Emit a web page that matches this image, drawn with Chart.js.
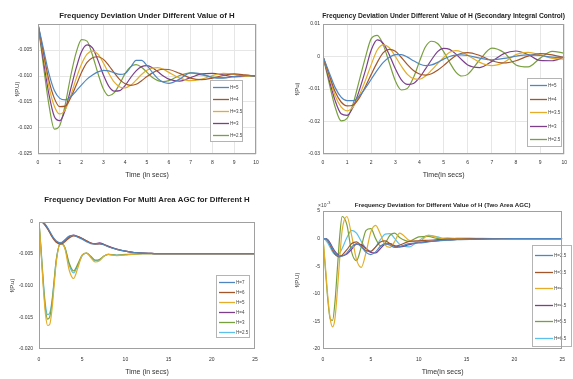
<!DOCTYPE html>
<html><head><meta charset="utf-8">
<script src="https://cdn.jsdelivr.net/npm/chart.js@4.4.0/dist/chart.umd.min.js"></script>
<style>
html,body{margin:0;padding:0;background:#fff;width:573px;height:379px;overflow:hidden}
canvas{position:absolute}
</style></head><body>
<canvas id="c1" width="290" height="190" style="left:0;top:0"></canvas>
<canvas id="c2" width="283" height="190" style="left:290px;top:0"></canvas>
<canvas id="c3" width="290" height="189" style="left:0;top:190px"></canvas>
<canvas id="c4" width="283" height="189" style="left:290px;top:190px"></canvas>
<script>
// ---------- data ----------
const T1 = [0,0.25,0.5,0.75,1,1.25,1.5,1.75,2,2.25,2.5,2.75,3,3.25,3.5,3.75,4,4.25,4.5,4.75,5,5.25,5.5,5.75,6,6.5,7,7.5,8,8.5,9,9.5,10];
const T3 = [0,0.25,0.5,0.75,1,1.25,1.5,1.75,2,2.5,3,3.5,4,4.5,5,5.5,6,6.5,7,7.5,8,9,10,11,12,13,14,16,18,20,22.5,25];

const LABELS1 = ["H=5","H=4","H=3.5","H=3","H=2.5"];
const LABELS2 = ["H=5","H=4","H=3.5","H=3","H=2.5"];
const LABELS3 = ["H=7","H=6","H=5","H=4","H=3","H=2.5"];
const LABELS4 = ["H=2.5","H=3.5","H=4","H=4.5","H=5.5","H=6.5"];

// Panel 1: primary control only
const P1_H5  = [0,-0.0048,-0.0095,-0.0128,-0.0143,-0.0146,-0.014,-0.0129,-0.0117,-0.0106,-0.0098,-0.0092,-0.0089,-0.009,-0.0094,-0.0097,-0.0095,-0.0083,-0.007,-0.007,-0.008,-0.0093,-0.0105,-0.0112,-0.0114,-0.0106,-0.0094,-0.0096,-0.0103,-0.0104,-0.0101,-0.0099,-0.01];
const P1_H4  = [0,-0.0055,-0.0108,-0.0143,-0.0159,-0.0158,-0.0142,-0.0118,-0.0093,-0.0074,-0.0065,-0.0063,-0.0068,-0.008,-0.0094,-0.0107,-0.0115,-0.0118,-0.0116,-0.0109,-0.0101,-0.0094,-0.0089,-0.0087,-0.00875,-0.0095,-0.0104,-0.0107,-0.0104,-0.0099,-0.0096,-0.0098,-0.01005];
const P1_H35 = [0,-0.006,-0.012,-0.0158,-0.0173,-0.0165,-0.0138,-0.0105,-0.0077,-0.0058,-0.0052,-0.0058,-0.0075,-0.0095,-0.0112,-0.0121,-0.0123,-0.0118,-0.0108,-0.0097,-0.0089,-0.0085,-0.0084,-0.0087,-0.0093,-0.0104,-0.0109,-0.0106,-0.0099,-0.0095,-0.0097,-0.01005,-0.0101];
const P1_H3  = [0,-0.007,-0.0135,-0.0178,-0.0186,-0.0165,-0.0125,-0.0085,-0.0053,-0.004,-0.0046,-0.007,-0.0098,-0.012,-0.0129,-0.0128,-0.0118,-0.0103,-0.009,-0.0082,-0.008,-0.0084,-0.0092,-0.01,-0.0106,-0.011,-0.0103,-0.0096,-0.0095,-0.0098,-0.01015,-0.0101,-0.01];
const P1_H25 = [0,-0.008,-0.0155,-0.0202,-0.0195,-0.0155,-0.01,-0.0055,-0.003,-0.0033,-0.006,-0.0095,-0.0125,-0.0138,-0.0132,-0.0115,-0.0095,-0.0082,-0.0078,-0.0083,-0.0093,-0.0103,-0.0109,-0.0111,-0.0109,-0.0099,-0.0094,-0.0098,-0.0102,-0.0103,-0.0101,-0.00995,-0.01];

// Panel 2: secondary integral control
const P2_H5  = [0,-0.0048,-0.0095,-0.0125,-0.0136,-0.0136,-0.0122,-0.0098,-0.007,-0.0042,-0.0018,-0.0002,0.0006,0.0006,-0.0002,-0.0013,-0.0023,-0.0028,-0.0026,-0.0018,-0.0008,0,0.0004,0.0005,0.0003,-0.0005,-0.001,-0.0006,0.0001,0.0005,0.0003,-0.0002,-0.0003];
const P2_H4  = [0,-0.0055,-0.0108,-0.014,-0.0152,-0.0149,-0.0128,-0.0094,-0.0055,-0.0018,0.0012,0.0022,0.0016,-0.0003,-0.0025,-0.0043,-0.0054,-0.0057,-0.0053,-0.0042,-0.0028,-0.0012,0.0002,0.001,0.0012,0.0003,-0.0013,-0.002,-0.0013,0.0001,0.0009,0.0005,-0.0003];
const P2_H35 = [0,-0.006,-0.012,-0.0155,-0.0167,-0.0155,-0.012,-0.0075,-0.0025,0.002,0.0036,0.0027,0,-0.003,-0.0055,-0.0068,-0.007,-0.006,-0.0042,-0.0022,-0.0003,0.0013,0.0018,0.0014,0.0004,-0.0018,-0.0028,-0.0018,0.0006,0.0013,0.0005,-0.0006,-0.0008];
const P2_H3  = [0,-0.007,-0.0135,-0.0176,-0.0181,-0.0155,-0.0105,-0.0045,0.002,0.0051,0.004,0.0005,-0.0038,-0.0072,-0.0086,-0.0083,-0.0065,-0.0038,-0.001,0.0015,0.0025,0.0022,0.0008,-0.001,-0.0026,-0.0034,-0.0015,0.0009,0.0017,0.0006,-0.0012,-0.0013,-0.0002];
const P2_H25 = [0,-0.008,-0.0155,-0.0198,-0.019,-0.0145,-0.0075,-0.0005,0.0055,0.0065,0.0035,-0.002,-0.0075,-0.0103,-0.0098,-0.0065,-0.0015,0.003,0.0047,0.004,0.0015,-0.0018,-0.0047,-0.006,-0.0055,-0.001,0.0026,0.0012,-0.0026,-0.0032,-0.0005,0.0016,0.001];

// Panel 3: multi area AGC
const P3_A = [0,0,-0.0001,-0.0004,-0.0009,-0.0015,-0.0021,-0.0026,-0.0030,-0.0033,-0.0028,-0.0022,-0.0021,-0.0024,-0.0027,-0.0031,-0.0034,-0.00345,-0.0034,-0.0036,-0.0039,-0.0043,-0.0046,-0.0048,-0.0049,-0.00495,-0.005,-0.005,-0.005,-0.005,-0.005,-0.005];
const P3_B = [0,0,-0.0002,-0.0006,-0.0011,-0.0017,-0.0023,-0.0028,-0.0032,-0.0035,-0.0031,-0.0025,-0.0022,-0.0023,-0.0026,-0.00295,-0.0033,-0.0035,-0.00345,-0.00355,-0.00385,-0.0043,-0.0046,-0.0048,-0.0049,-0.00495,-0.005,-0.005,-0.005,-0.005,-0.005,-0.005];
const P3_C = [0,-0.005,-0.0103,-0.0145,-0.0163,-0.0161,-0.0138,-0.0100,-0.0063,-0.0032,-0.0042,-0.0076,-0.0089,-0.0072,-0.0052,-0.0049,-0.0056,-0.0063,-0.0061,-0.0054,-0.0051,-0.0053,-0.0052,-0.00505,-0.005,-0.005,-0.005,-0.005,-0.005,-0.005,-0.005,-0.005];
const P3_D = [0,0,-0.0001,-0.0005,-0.001,-0.0016,-0.0022,-0.0027,-0.0031,-0.0034,-0.0029,-0.0023,-0.00205,-0.0023,-0.0026,-0.003,-0.0033,-0.0034,-0.0033,-0.0035,-0.0038,-0.00425,-0.0046,-0.0048,-0.0049,-0.00495,-0.005,-0.005,-0.005,-0.005,-0.005,-0.005];
const P3_E = [0,-0.0047,-0.0098,-0.0138,-0.0153,-0.0149,-0.0128,-0.0094,-0.006,-0.0033,-0.004,-0.0065,-0.0077,-0.0066,-0.0052,-0.0049,-0.0054,-0.006,-0.0059,-0.0054,-0.0051,-0.00525,-0.00515,-0.00505,-0.005,-0.005,-0.005,-0.005,-0.005,-0.005,-0.005,-0.005];
const P3_F = [0,-0.0044,-0.0093,-0.0131,-0.0146,-0.0143,-0.0124,-0.0092,-0.0059,-0.0034,-0.0041,-0.0068,-0.0080,-0.0068,-0.0053,-0.0049,-0.0055,-0.0061,-0.006,-0.0054,-0.0051,-0.0052,-0.0051,-0.00502,-0.005,-0.005,-0.005,-0.005,-0.005,-0.005,-0.005,-0.005];

// Panel 4: two area AGC (values x 10^-3)
const P4_A = [0,0,-0.3,-1.0,-1.8,-2.5,-3.0,-3.2,-3.2,-2.6,-1.5,-0.9,-1.5,-2.5,-2.9,-2.4,-1.4,-0.9,-1.2,-1.6,-1.5,-0.9,-0.8,-0.6,-0.4,-0.3,-0.2,-0.1,-0.05,0,0,0];
const P4_B = [0,0,-0.4,-1.2,-2.1,-2.8,-3.2,-3.3,-3.0,-2.0,-0.9,-0.6,-1.3,-2.2,-2.3,-1.5,-0.6,-0.4,-0.9,-1.4,-1.2,-0.5,-0.4,-0.3,-0.2,-0.1,-0.1,0,0,0,0,0];
const P4_C = [0,-5,-10.5,-14.5,-16,-14.5,-9.5,-3.5,1.5,4.0,0.5,-3.8,-5.2,-2.5,1.2,2.4,0.8,-1.2,-1.6,-0.5,1.0,-0.3,-0.6,0.6,0.2,-0.1,0.1,0.05,0,0,0,0];
const P4_D = [0,0,-0.2,-0.8,-1.6,-2.3,-2.8,-3.1,-3.1,-2.8,-1.9,-1.0,-1.1,-1.8,-2.5,-2.6,-1.8,-1.0,-0.9,-1.3,-1.5,-1.1,-0.7,-0.5,-0.35,-0.25,-0.15,-0.08,-0.03,0,0,0];
const P4_E = [0,-5.5,-11,-14.5,-14.8,-11.5,-5.5,0.5,4.0,2.5,-2.5,-4.0,-1.5,1.5,1.8,0,-1.3,-0.8,0.6,1.0,0.2,-0.5,0.3,0.4,0,0.1,0,0,0,0,0,0];
const P4_F = [0,-0.2,-0.8,-1.6,-2.4,-2.9,-3.0,-2.6,-1.8,0.2,1.5,1.0,-0.5,-1.8,-2.3,-1.5,-0.2,0.8,0.9,0.0,-1.0,-1.5,-0.4,0.6,0.3,-0.2,0,0,0,0,0,0];

const COLORS = ['#4f86c0','#a3562a','#e3ad2a','#7b3f8c','#79a03f','#5cc0ea'];
const FONT = "'Liberation Sans', Arial, sans-serif";

// ---------- plugins ----------
const titlePlugin = {
  id:'panelTitle',
  afterDraw(chart, args, o){
    const {ctx, chartArea:a} = chart;
    ctx.save();
    ctx.fillStyle = '#222';
    ctx.font = `bold ${o.size}px ${FONT}`;
    ctx.textAlign = 'center'; ctx.textBaseline = 'middle';
    ctx.fillText(o.text, (a.left + a.right)/2, o.y);
    if (o.exp) {
      ctx.font = `${o.exp.size}px ${FONT}`;
      ctx.textAlign = 'left'; ctx.textBaseline = 'alphabetic';
      ctx.fillStyle = '#444';
      ctx.fillText('\u00d710', o.exp.x, o.exp.y);
      const w = ctx.measureText('\u00d710').width;
      ctx.font = `${o.exp.size*0.75}px ${FONT}`;
      ctx.fillText('-3', o.exp.x + w + 0.5, o.exp.y - 3);
    }
    ctx.restore();
  }
};
const legendPlugin = {
  id:'boxLegend',
  afterDatasetsDraw(chart, args, o){
    const ctx = chart.ctx;
    ctx.save();
    ctx.fillStyle = '#fff'; ctx.fillRect(o.x, o.y, o.w, o.h);
    ctx.strokeStyle = '#b4b4b4'; ctx.lineWidth = 1;
    ctx.strokeRect(o.x + 0.5, o.y + 0.5, o.w - 1, o.h - 1);
    ctx.font = `${o.size}px ${FONT}`; ctx.textBaseline = 'middle'; ctx.textAlign = 'left';
    chart.data.datasets.forEach((ds, i) => {
      const y = Math.round(o.first + i*o.step) + 0.5;
      ctx.strokeStyle = ds.borderColor; ctx.lineWidth = 1.3;
      ctx.beginPath(); ctx.moveTo(o.x + 3, y); ctx.lineTo(o.x + 3 + o.line, y); ctx.stroke();
      ctx.fillStyle = '#444';
      ctx.fillText(ds.label, o.x + 4 + o.line, y);
    });
    ctx.restore();
  }
};
const framePlugin = {
  id:'frame',
  afterDraw(chart){
    const {ctx, chartArea:a} = chart;
    ctx.save();
    ctx.strokeStyle = '#a0a0a0'; ctx.lineWidth = 1;
    const l = Math.round(a.left), t = Math.round(a.top), r = Math.round(a.right), b = Math.round(a.bottom);
    ctx.strokeRect(l + 0.5, t + 0.5, r - l - 1, b - t - 1);
    ctx.restore();
  }
};

function series(T, arrs, labels){
  return arrs.map((a, i) => ({
    label: labels[i],
    data: a.map((v, j) => ({x: T[j], y: v})),
    borderColor: COLORS[i], backgroundColor: COLORS[i],
    borderWidth: 1.2, pointRadius: 0, fill: false,
    cubicInterpolationMode: 'monotone'
  }));
}

function makeChart(id, T, arrs, labels, P){
  const yTicks = {stepSize: P.ystep, padding: P.ytickPad, font:{size:5, family:FONT}, color:'#333', autoSkip:false};
  if (P.hideTop) {
    yTicks.callback = function(v, i, ticks){ return v === P.ymax ? '' : Chart.Ticks.formatters.numeric.apply(this, [v, i, ticks]); };
  }
  new Chart(document.getElementById(id), {
    type: 'line',
    data: {datasets: series(T, arrs, labels)},
    options: {
      responsive: false, animation: false, devicePixelRatio: 1,
      layout: {padding: {left: 0, top: P.top, right: P.right, bottom: P.bottom}},
      plugins: {
        legend: {display: false}, tooltip: {enabled: false},
        panelTitle: P.title, boxLegend: P.legend
      },
      scales: {
        x: {
          type: 'linear', min: P.xmin, max: P.xmax,
          ticks: {stepSize: P.xstep, padding: P.xtickPad, font:{size:5, family:FONT}, color:'#333', maxRotation:0, autoSkip:false},
          grid: {display: P.grid, color: '#e6e6e6', drawTicks: false},
          border: {display: false},
          title: {display: true, text: P.xtitle, font:{size:7, family:FONT}, color:'#333', padding:{top:0, bottom:P.xtitlePad}},
          afterFit(s){ s.height = P.xH; }
        },
        y: {
          type: 'linear', min: P.ymin, max: P.ymax,
          ticks: yTicks,
          grid: {display: P.grid, color: '#e6e6e6', drawTicks: false},
          border: {display: false},
          title: {display: true, text: P.ytitle, font:{size:6, family:FONT}, color:'#333', padding:{top:P.ytitlePad, bottom:0}},
          afterFit(s){ s.width = P.yW; }
        }
      }
    },
    plugins: [legendPlugin, framePlugin, titlePlugin]
  });
}

makeChart('c1', T1, [P1_H5, P1_H4, P1_H35, P1_H3, P1_H25], LABELS1, {
  top:24, right:34, bottom:6, xH:30, yW:38,
  xmin:0, xmax:10, xstep:1, ymin:-0.025, ymax:0, ystep:0.005, hideTop:true,
  xtickPad:6, ytickPad:6, xtitlePad:5, ytitlePad:14, grid:true,
  xtitle:'Time (in secs)', ytitle:'f(P.U)',
  title:{text:'Frequency Deviation Under Different Value of H', size:7.8, y:16},
  legend:{x:210, y:80, w:33, h:62, first:87, step:12, line:16, size:4.5}
});
makeChart('c2', T1, [P2_H5, P2_H4, P2_H35, P2_H3, P2_H25], LABELS2, {
  top:24, right:3, bottom:6, xH:30, yW:33,
  xmin:0, xmax:10, xstep:1, ymin:-0.03, ymax:0.01, ystep:0.01,
  xtickPad:6, ytickPad:3, xtitlePad:5, ytitlePad:3.4, grid:true,
  xtitle:'Time(in secs)', ytitle:'f(Pu)',
  title:{text:'Frequency Deviation Under Different Value of H (Secondary Integral Control)', size:6.7, y:16},
  legend:{x:237, y:78, w:35, h:69, first:85, step:13.5, line:17, size:4.5}
});
makeChart('c3', T3, [P3_A, P3_B, P3_C, P3_D, P3_E, P3_F], LABELS3, {
  top:32, right:35, bottom:0, xH:30, yW:39,
  xmin:0, xmax:25, xstep:5, ymin:-0.02, ymax:0, ystep:0.005,
  xtickPad:8, ytickPad:6, xtitlePad:3, ytitlePad:8.4, grid:false,
  xtitle:'Time (in secs)', ytitle:'f(P.u)',
  title:{text:'Frequency Deviation For Multi Area AGC for Different H', size:7.8, y:10},
  legend:{x:216, y:85, w:34, h:63, first:92, step:10, line:16, size:4.5}
});
makeChart('c4', T3, [P4_A, P4_B, P4_C, P4_D, P4_E, P4_F], LABELS4, {
  top:21, right:2, bottom:0, xH:30, yW:33,
  xmin:0, xmax:25, xstep:5, ymin:-20, ymax:5, ystep:5,
  xtickPad:8, ytickPad:3, xtitlePad:3, ytitlePad:3.4, grid:false,
  xtitle:'Time(in secs)', ytitle:'f(P.U)',
  title:{text:'Frequency Deviation for Different Value of H (Two Area AGC)', size:6.1, y:15,
         exp:{x:28, y:17, size:5}},
  legend:{x:242, y:55, w:40, h:102, first:65, step:16.5, line:18, size:4.5}
});
</script>
</body></html>
